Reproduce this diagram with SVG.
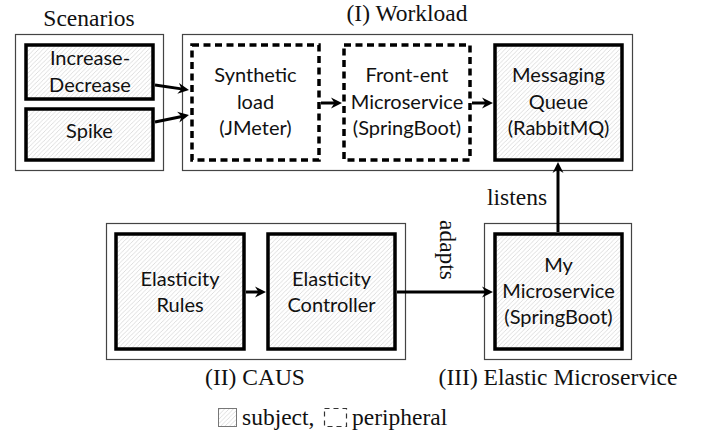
<svg xmlns="http://www.w3.org/2000/svg" width="704" height="436" viewBox="0 0 704 436">
<defs>
<pattern id="hatch" patternUnits="userSpaceOnUse" width="4.4" height="4.4">
<path d="M-1,1.1 L1.1,-1 M0,4.4 L4.4,0 M3.3,5.5 L5.5,3.3" stroke="#cdcdcd" stroke-width="0.65"/>
</pattern>
<marker id="arr" markerUnits="userSpaceOnUse" markerWidth="14" markerHeight="14" refX="5" refY="6" orient="auto">
<path d="M0,0.5 L11,6 L0,11.5 L3.5,6 Z" fill="#000"/>
</marker>
<style>
.outer{fill:#fff;stroke:#444;stroke-width:1.2}
.subj{fill:url(#hatch);stroke:#000;stroke-width:3.5}
.peri{fill:#fff;stroke:#000;stroke-width:3.5;stroke-dasharray:7 4.5}
.ns{font-family:Lato,"Liberation Sans",Arial,sans-serif;font-size:20px;fill:#111;text-anchor:middle}
.sf{font-family:"Liberation Serif","Times New Roman",serif;font-size:23.5px;fill:#111}
.c{text-anchor:middle}
.edge{stroke:#000;stroke-width:3;fill:none;marker-end:url(#arr)}
</style>
</defs>
<rect width="704" height="436" fill="#fff"/>

<g id="group-scenarios">
<rect class="outer" x="15.5" y="34.5" width="148" height="136"/>
<text class="sf c" x="89" y="26">Scenarios</text>
</g>
<g id="group-workload">
<rect class="outer" x="182.5" y="34.5" width="450" height="136"/>
<text class="sf c" x="407" y="21">(I) Workload</text>
</g>
<g id="group-caus">
<rect class="outer" x="106.5" y="223.5" width="299" height="136"/>
<text class="sf c" x="255" y="385">(II) CAUS</text>
</g>
<g id="group-elastic">
<rect class="outer" x="484.5" y="223.5" width="147" height="136"/>
<text class="sf c" x="558" y="385">(III) Elastic Microservice</text>
</g>

<g id="increase-decrease">
<rect class="subj" x="26" y="45" width="127" height="54"/>
<text class="ns" x="90" y="65">Increase-</text>
<text class="ns" x="90" y="92">Decrease</text>
</g>
<g id="spike">
<rect class="subj" x="26" y="109" width="127" height="51"/>
<text class="ns" x="89.5" y="138">Spike</text>
</g>
<g id="synthetic-load">
<rect class="peri" x="192" y="45" width="127" height="115"/>
<text class="ns" x="255.5" y="82">Synthetic</text>
<text class="ns" x="255.5" y="109">load</text>
<text class="ns" x="255.5" y="135">(JMeter)</text>
</g>
<g id="front-end">
<rect class="peri" x="344" y="45" width="126" height="115"/>
<text class="ns" x="407" y="82">Front-ent</text>
<text class="ns" x="407" y="109">Microservice</text>
<text class="ns" x="407" y="135">(SpringBoot)</text>
</g>
<g id="messaging-queue">
<rect class="subj" x="495" y="45" width="127" height="115"/>
<text class="ns" x="558.5" y="82">Messaging</text>
<text class="ns" x="558.5" y="109">Queue</text>
<text class="ns" x="558.5" y="135">(RabbitMQ)</text>
</g>
<g id="elasticity-rules">
<rect class="subj" x="116" y="234" width="128" height="115"/>
<text class="ns" x="180" y="286">Elasticity</text>
<text class="ns" x="180" y="312">Rules</text>
</g>
<g id="elasticity-controller">
<rect class="subj" x="268" y="234" width="127" height="115"/>
<text class="ns" x="331.5" y="286">Elasticity</text>
<text class="ns" x="331.5" y="312">Controller</text>
</g>
<g id="my-microservice">
<rect class="subj" x="495" y="234" width="127" height="115"/>
<text class="ns" x="558.5" y="272">My</text>
<text class="ns" x="558.5" y="298">Microservice</text>
<text class="ns" x="558.5" y="324">(SpringBoot)</text>
</g>

<g id="connectors">
<line class="edge" x1="155" y1="85" x2="183.07" y2="89.13"/>
<line class="edge" x1="155" y1="122" x2="183.12" y2="116.21"/>
<line class="edge" x1="321" y1="103" x2="336" y2="103"/>
<line class="edge" x1="472" y1="103" x2="487" y2="103"/>
<line class="edge" x1="246" y1="292" x2="260" y2="292"/>
<line class="edge" x1="397" y1="292" x2="487" y2="292"/>
<line class="edge" x1="558" y1="232" x2="558" y2="168"/>
<text class="sf c" x="517" y="205">listens</text>
<text class="sf c" transform="translate(440,250) rotate(90)">adapts</text>
</g>

<g id="legend">
<rect x="218.5" y="408.5" width="18" height="18" fill="url(#hatch)" stroke="#777" stroke-width="1"/>
<text class="sf" x="242" y="425">subject,</text>
<rect x="324.5" y="408.5" width="22" height="18" fill="none" stroke="#333" stroke-width="1.2" stroke-dasharray="5 4"/>
<text class="sf" x="352" y="425">peripheral</text>
</g>
</svg>
